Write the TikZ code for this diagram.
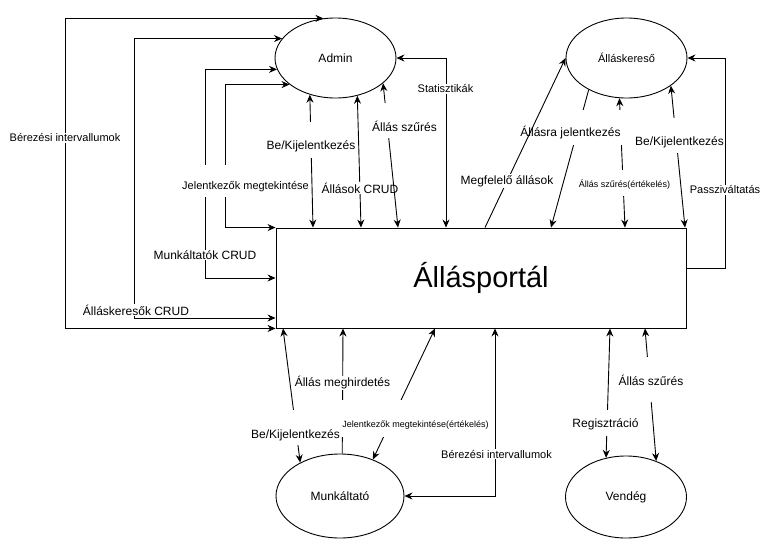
\documentclass[tikz,border=0pt]{standalone}
\usepackage{fontspec}
\setmainfont{Liberation Sans}
\usetikzlibrary{arrows.meta, shapes.geometric}
\tikzset{
  actor/.style={
    draw, ellipse, line width=0.9pt, inner sep=0pt,
    minimum width=121pt, minimum height=80pt,
    font=\fontsize{12}{14}\selectfont
  },
  sysbox/.style={
    draw, rectangle, line width=0.9pt,
    minimum width=410pt, minimum height=100pt,
    font=\fontsize{29}{34}\selectfont
  },
  arr/.style={
    -{Stealth[length=8pt,width=7pt]}, line width=0.9pt
  },
  biarr/.style={
    {Stealth[length=8pt,width=7pt]}-{Stealth[length=8pt,width=7pt]},
    line width=0.9pt
  },
  % edge labels on white background
  elbl/.style  ={fill=white, inner sep=1pt, font=\fontsize{12}{14}\selectfont},
  elblsm/.style={elbl, font=\fontsize{11}{13}\selectfont},
  elblxs/.style={elbl, font=\fontsize{9}{11}\selectfont},
  tall/.style 2 args={anchor=base, text height=#1, text depth=#2}
}

\begin{document}
\begin{tikzpicture}[x=1pt, y=-1pt]
  \useasboundingbox (0,0) rectangle (771,549);
  \node[sysbox] (portal) at (481,278) {Állásportál};
  \node[actor] (admin) at (335.5,58) {Admin};
  \node[actor, font=\fontsize{11}{13}\selectfont] (ask) at (626.5,58) {Álláskereső};
  \node[actor, minimum width=128pt, minimum height=84pt] (munk) at (340,496) {Munkáltató};
  \node[actor, minimum height=82pt] (ven) at (626,497) {Vendég};

  % admin
  \draw[biarr] (portal.south west) -- ++(-210,0) |- (admin.107)
    node[elblsm] (lBerA) at (65,138) {Bérezési intervallumok};
  \draw[biarr] (portal.west |- 0,318) -- ++(-141,0) |- (admin.160)
    node[elbl] (lAkCrud) at (136,310) {Álláskeresők CRUD};
  \draw[biarr] (portal.west) -- ++(-70,0) |- (admin.-169)
    node[elbl] (lMkCrud) at (205,255) {Munkáltatók CRUD};
  \draw[biarr] (portal.north west) -- ++(-50,0) |- (admin.-150.5)
    node[elblsm, tall={23pt}{7pt}] (lJelMeg) at (245.5,189) {Jelentkezők megtekintése};
  \draw[biarr] (admin.-125) -- (313,0 |- portal.north)
    node[elbl, tall={26.7pt}{7.3pt}] (lBeKiA) at (311,149.7) {Be/Kijelentkezés};
  \draw[biarr] (admin.-60) -- (361,0 |- portal.north)
    node[elbl] (lCrudA) at (360,188) {Állások CRUD};
  \draw[biarr] (admin.-28) -- (398,0 |- portal.north)
    node[elbl, tall={27pt}{6pt}] (lSzurA) at (404.5,131) {Állás szűrés};
  \draw[biarr] (446,0 |- portal.north) |- (admin.east)
    node[elblsm] (lStat) at (445.5,89) {Statisztikák};

  % allaskereso
  \draw[biarr] (ask.-100) -- (625,0 |- portal.north)
    node[elblxs, tall={16pt}{8pt}] (lSzurE) at (624.5,187) {Állás szűrés(értékelés)};
  \draw[arr] (ask.-140) -- (551,0 |- portal.north)
    node[elbl, tall={25pt}{8pt}] (lJelk) at (570.5,136) {Állásra jelentkezés};
  \draw[arr] (485,0 |- portal.north) -- (ask.west)
    node[elbl] (lMegf) at (507,181) {Megfelelő állások};
  \draw[biarr] (ask.-32) -- (685,0 |- portal.north)
    node[elbl, tall={26pt}{7pt}] (lBeKiK) at (679.5,145) {Be/Kijelentkezés};
  \draw[arr] (portal.east |- 0,268) -- ++(39,0) |- (ask.east)
    node[elblsm] (lPassz) at (725,190) {Passziváltatás};

  % munkaltato
  \draw[biarr] (283,0 |- portal.south) -- (munk.140)
    node[elbl, tall={27pt}{6pt}] (lBeKiM) at (295.5,438) {Be/Kijelentkezés};
  \draw[arr] (munk.87) -- (343,0 |- portal.south)
    node[elbl] (lMeghir) at (342.5,383) {Állás meghirdetés};
  \draw[biarr] (435,0 |- portal.south) -- (munk.48)
    node[elblxs, tall={26pt}{9pt}, inner xsep=2pt] (lJelMgE) at (415.5,427)
      {Jelentkezők megtekintése(értékelés)};
  \draw[biarr] (495,0 |- portal.south) |- (munk.east)
    node[elblsm] (lBerM) at (496.5,454) {Bérezési intervallumok};

  % vendeg
  \draw[biarr] (610,0 |- portal.south) -- (ven.117)
    node[elbl, tall={16pt}{8pt}] (lReg) at (605.5,427) {Regisztráció};
  \draw[biarr] (645,0 |- portal.south) -- (ven.50)
    node[elbl, tall={27pt}{16pt}] (lSzurV) at (651,385) {Állás szűrés};
\end{tikzpicture}
\end{document}
